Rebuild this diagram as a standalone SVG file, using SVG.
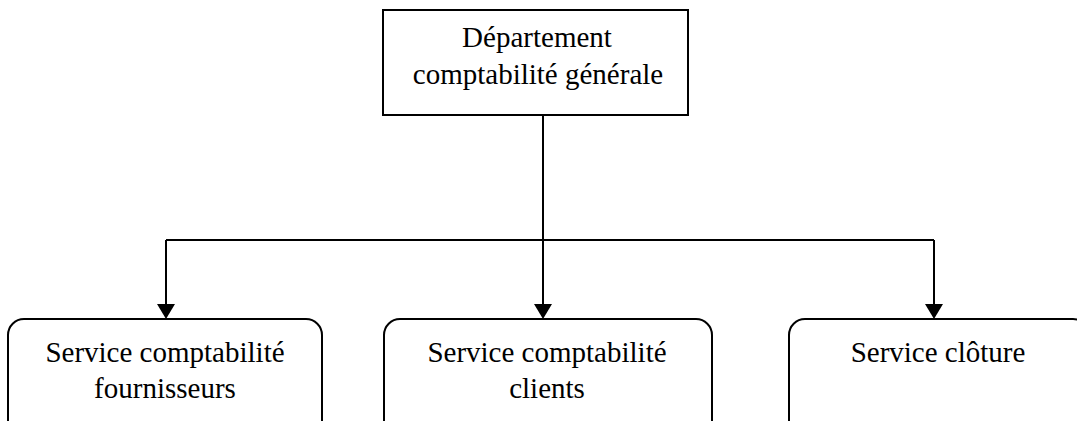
<svg xmlns="http://www.w3.org/2000/svg" width="1077" height="421" viewBox="0 0 1077 421">
<style>
.box{fill:#fff;stroke:#000;stroke-width:2}
.t{font-family:"Liberation Serif","Times New Roman",serif;font-size:29px;fill:#000;text-anchor:middle}
.c{fill:none;stroke:#000;stroke-width:2}
</style>
<rect width="1077" height="421" fill="#fff"/>
<g id="connectors">
<path class="c" d="M543,115 V240"/>
<path class="c" d="M166,240 H934"/>
<path class="c" d="M166,240 V304"/>
<path class="c" d="M543,240 V304"/>
<path class="c" d="M934,240 V304"/>
<path d="M157,304 L175,304 L166,319 Z"/>
<path d="M534,304 L552,304 L543,319 Z"/>
<path d="M925,304 L943,304 L934,319 Z"/>
</g>
<g id="top">
<rect class="box" x="383" y="10" width="305" height="105"/>
<text class="t" x="537" y="47">Département</text>
<text class="t" x="538" y="84">comptabilité générale</text>
</g>
<g id="fournisseurs">
<rect class="box" x="8" y="319" width="314" height="130" rx="16"/>
<text class="t" x="165" y="362">Service comptabilité</text>
<text class="t" x="165" y="398">fournisseurs</text>
</g>
<g id="clients">
<rect class="box" x="384" y="319" width="328" height="130" rx="16"/>
<text class="t" x="547" y="362">Service comptabilité</text>
<text class="t" x="547" y="398">clients</text>
</g>
<g id="cloture">
<rect class="box" x="789" y="319" width="300" height="130" rx="16"/>
<text class="t" x="938" y="362">Service clôture</text>
</g>
</svg>
